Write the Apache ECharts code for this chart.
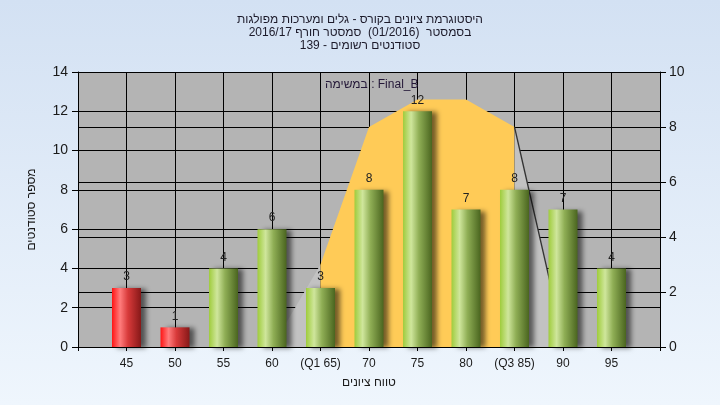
<!DOCTYPE html>
<html>
<head>
<meta charset="utf-8">
<script src="https://cdn.jsdelivr.net/npm/echarts@6/dist/echarts.min.js"></script>
<style>
html,body{margin:0;padding:0;}
#c{width:720px;height:405px;}
</style>
</head>
<body>
<div id="c"></div>
<script>
// ---- data ----
const scoreBins = [45, 50, 55, 60, 65, 70, 75, 80, 85, 90, 95];
const studentCounts = [3, 1, 4, 6, 3, 8, 12, 7, 8, 7, 4];
const tickLabels = ['45', '50', '55', '60', '(Q1 65)', '70', '75', '80', '(Q3 85)', '90', '95'];
const curveX = [60, 65, 70, 75, 80, 85, 90];
const curveY = [0, 3, 8, 9, 9, 8, 0.3];
const q1 = 65, q3 = 85;
const passMark = 55;
const titleLines = [
  'היסטוגרמת ציונים בקורס - גלים ומערכות מפולגות',
  'בסמסטר  (01/2016)  סמסטר חורף 2016/17',
  'סטודנטים רשומים - 139'
];
const legendText = 'במשימה : Final_B';
const yName = 'מספר סטודנטים';
const xName = 'טווח ציונים';

const FONT = '"Liberation Sans", "DejaVu Sans", "Noto Sans", sans-serif';

function grad(stops) {
  return new echarts.graphic.LinearGradient(0, 0, 1, 0, stops.map((c, i) => ({offset: c[0], color: c[1]})));
}
const greenGrad = grad([[0, '#9fcc3c'], [0.28, '#cfe69c'], [0.55, '#8fae55'], [1, '#4a651f']]);
const redGrad = grad([[0, '#ff1414'], [0.28, '#ff7c7c'], [0.55, '#d83a3a'], [1, '#861818']]);

const pts = curveX.map((x, i) => [x, curveY[i]]);
const leftGray = pts.filter(p => p[0] <= q1);
const mid = pts.filter(p => p[0] >= q1 && p[0] <= q3);
const rightGray = pts.filter(p => p[0] >= q3);

const chart = echarts.init(document.getElementById('c'), null, {renderer: 'canvas'});
chart.setOption({
  animation: false,
  backgroundColor: new echarts.graphic.LinearGradient(0, 0, 0, 1, [
    {offset: 0, color: '#d3e1f3'}, {offset: 1, color: '#eff6fd'}
  ]),
  textStyle: {fontFamily: FONT},
  title: {
    text: titleLines.join('\n'),
    left: 'center',
    top: 8,
    textStyle: {fontFamily: FONT, fontSize: 12, fontWeight: 'normal', color: '#1c1a2a', lineHeight: 13}
  },
  graphic: [{
    type: 'text',
    left: 325,
    top: 79,
    z: 10,
    style: {text: legendText, font: '12px ' + FONT, fill: '#241838'}
  }],
  grid: {left: 78, right: 60, top: 72, bottom: 58, show: true, backgroundColor: '#b4b4b4', borderWidth: 0},
  xAxis: {
    type: 'value',
    min: 40, max: 100, interval: 5,
    name: xName,
    nameLocation: 'middle',
    nameGap: 30,
    nameTextStyle: {fontFamily: FONT, fontSize: 12, color: '#1a1a1a'},
    axisLine: {show: true, lineStyle: {color: '#000', width: 1}},
    axisTick: {show: true, length: 4, lineStyle: {color: '#000'}},
    axisLabel: {
      margin: 11, fontSize: 12, color: '#1a1a1a', fontFamily: FONT,
      formatter: v => { const i = scoreBins.indexOf(v); return i >= 0 ? tickLabels[i] : ''; }
    },
    splitLine: {show: true, lineStyle: {color: '#000', width: 1}}
  },
  yAxis: [{
    type: 'value', min: 0, max: 14, interval: 2, position: 'left',
    name: yName, nameLocation: 'middle', nameGap: 40, nameRotate: 90,
    nameTextStyle: {fontFamily: FONT, fontSize: 12, color: '#1a1a1a'},
    axisLine: {show: true, lineStyle: {color: '#000'}},
    axisTick: {show: true, length: 6, lineStyle: {color: '#000'}},
    axisLabel: {margin: 10, fontSize: 14, color: '#1a1a1a', fontFamily: FONT},
    splitLine: {show: true, lineStyle: {color: '#000', width: 1}}
  }, {
    type: 'value', min: 0, max: 10, interval: 2, position: 'right',
    axisLine: {show: true, lineStyle: {color: '#000'}},
    axisTick: {show: true, length: 6, lineStyle: {color: '#000'}},
    axisLabel: {margin: 9, fontSize: 14, color: '#1a1a1a', fontFamily: FONT},
    splitLine: {show: true, lineStyle: {color: '#000', width: 1}}
  }],
  series: [{
    type: 'line', yAxisIndex: 1, z: 1, symbol: 'none', silent: true,
    data: leftGray,
    lineStyle: {width: 0},
    areaStyle: {color: '#c2c2c2', opacity: 1}
  }, {
    type: 'line', yAxisIndex: 1, z: 1, symbol: 'none', silent: true,
    data: mid,
    lineStyle: {width: 0},
    areaStyle: {color: '#ffcb57', opacity: 1}
  }, {
    type: 'line', yAxisIndex: 1, z: 1, symbol: 'none', silent: true,
    data: rightGray,
    lineStyle: {width: 1.3, color: '#333'},
    areaStyle: {color: '#c2c2c2', opacity: 1}
  }, {
    type: 'bar', yAxisIndex: 0, z: 3,
    barWidth: 29,
    data: scoreBins.map((x, i) => ({
      value: [x, studentCounts[i]],
      itemStyle: {color: x < passMark ? redGrad : greenGrad}
    })),
    itemStyle: {shadowColor: 'rgba(0,0,0,0.55)', shadowBlur: 5, shadowOffsetX: 5, shadowOffsetY: 1},
    label: {show: true, position: 'top', distance: 5, fontSize: 12, color: '#222', fontFamily: FONT,
      formatter: p => p.value[1]}
  }]
});
</script>
</body>
</html>
